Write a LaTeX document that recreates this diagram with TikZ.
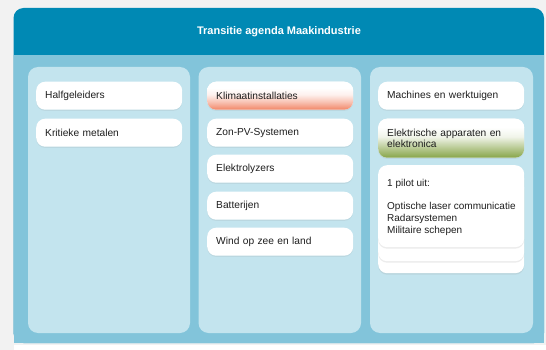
\documentclass[tikz,border=0pt]{standalone}
\usepackage{fontspec}
\setmainfont{Liberation Sans}
\usetikzlibrary{shadows}
\definecolor{pagebg}{RGB}{242,242,242}
\definecolor{headblue}{RGB}{0,137,180}
\definecolor{bodyblue}{RGB}{130,196,218}
\definecolor{colblue}{RGB}{195,228,238}
\definecolor{orangeb}{RGB}{242,138,108}
\definecolor{greenb}{RGB}{138,168,78}
\definecolor{txt}{RGB}{30,30,30}
\pgfdeclareverticalshading{orangefade}{100bp}{color(0bp)=(orangeb); color(26bp)=(orangeb); color(38bp)=(orangeb!55!white); color(52bp)=(orangeb!12!white); color(64bp)=(white); color(100bp)=(white)}
\pgfdeclareverticalshading{greenfade}{100bp}{color(0bp)=(greenb); color(26bp)=(greenb); color(38bp)=(greenb!60!white); color(52bp)=(greenb!12!white); color(64bp)=(white); color(100bp)=(white)}
\tikzset{
  column/.style={fill=colblue, rounded corners=10pt, draw=none},
  card/.style={anchor=north west, fill=white, rounded corners=9pt,
    minimum width=146pt, minimum height=28pt, text width=128pt,
    inner xsep=9pt, inner ysep=0pt, align=left, text=txt,
    font=\fontsize{10.2}{11.5}\selectfont},
  cardshadow/.style={drop shadow={opacity=0.12, shadow xshift=0pt, shadow yshift=-1.2pt}},
  stackshadow/.style={drop shadow={opacity=0.15, shadow xshift=0pt, shadow yshift=-1.5pt}},
  orangecard/.style={card, shading=orangefade},
  greencard/.style={card, shading=greenfade},
  plaintext/.style={anchor=north west, inner sep=0pt, align=left, text=txt,
    font=\fontsize{10}{11.7}\selectfont},
}
\begin{document}
\begin{tikzpicture}[x=1pt,y=-1pt]
\useasboundingbox (0,0) rectangle (546,350);
\fill[pagebg] (0,0) rectangle (546,350);
\fill[white] (13.5,350) rectangle (546,345);
% panel
\fill[headblue, rounded corners=10pt] (13.5,8) rectangle (544,343);
\fill[bodyblue] (13.5,55) rectangle (544,343);
\node[text=white, font=\bfseries\fontsize{11}{13}\selectfont] (title) at (279,32) {Transitie agenda Maakindustrie};
% columns
\path[column] (28,67) rectangle (190,333);
\path[column] (198.5,67) rectangle (361,333);
\path[column] (370,67) rectangle (533,333);
% column 1
\node[card, cardshadow] (halfgeleiders) at (36,81.5) {Halfgeleiders};
\node[card, cardshadow] (kritieke) at (36,118.5) {Kritieke metalen};
% column 2
\node[orangecard, cardshadow] (klimaat) at (207,81.5) {Klimaatinstallaties};
\node[card, cardshadow] (zonpv) at (207,118.5) {Zon-PV-Systemen};
\node[card, cardshadow] (elektrolyzers) at (207,154.5) {Elektrolyzers};
\node[card, cardshadow] (batterijen) at (207,191.5) {Batterijen};
\node[card, cardshadow] (wind) at (207,227.5) {Wind op zee en land};
% column 3
\node[card, cardshadow] (machines) at (378,81.5) {Machines en werktuigen};
\node[greencard, cardshadow, minimum height=39pt] (elektrische) at (378,118.5) {Elektrische apparaten en\\elektronica};
\node[card, stackshadow, minimum height=94pt] (stack3) at (378,179) {};
\node[card, stackshadow, minimum height=91pt] (stack2) at (378,170) {};
\node[card, stackshadow, minimum height=82pt] (pilot) at (378,165) {};
\node[plaintext] (pilottext) at (387,179) {1 pilot uit:\\[11.7pt]Optische laser communicatie\\Radarsystemen\\Militaire schepen};
\end{tikzpicture}
\end{document}
